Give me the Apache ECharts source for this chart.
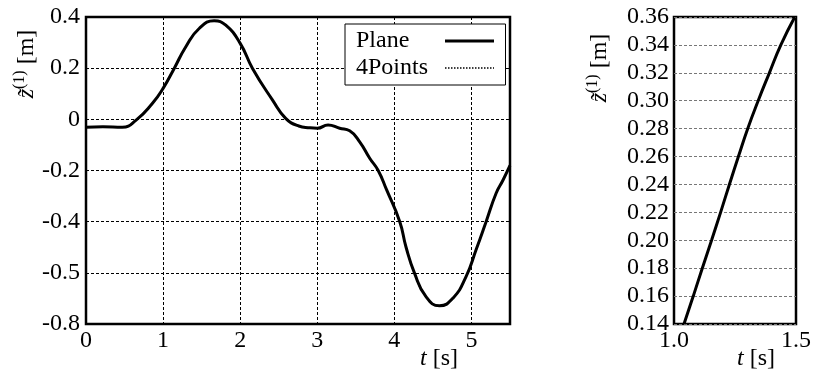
<!DOCTYPE html>
<html>
<head>
<meta charset="utf-8">
<script src="https://cdn.jsdelivr.net/npm/echarts@6/dist/echarts.min.js"></script>
<style>
html,body{margin:0;padding:0;background:#fff;}
#chart{width:814px;height:374px;}
</style>
</head>
<body>
<div id="chart"></div>
<script>
// ---- data ----
var planeT = [0, 0.22, 0.47, 0.65, 0.86, 1.0, 1.144, 1.295, 1.468, 1.662, 1.813, 2.0, 2.16, 2.42, 2.59, 2.76, 2.9, 3.0, 3.14, 3.29, 3.42, 3.55, 3.68, 3.79, 3.9, 4.07, 4.15, 4.26, 4.41, 4.585, 4.76, 4.93, 5.06, 5.19, 5.32, 5.41, 5.5];
var planeZ = [-0.031, -0.029, -0.031, -0.003, 0.062, 0.121, 0.199, 0.284, 0.355, 0.385, 0.368, 0.297, 0.199, 0.075, 0.004, -0.026, -0.033, -0.035, -0.022, -0.035, -0.045, -0.088, -0.152, -0.2, -0.276, -0.40, -0.498, -0.6, -0.693, -0.729, -0.699, -0.615, -0.51, -0.4, -0.289, -0.237, -0.18];
var fourPointsT = planeT;
var fourPointsZ = planeZ;
var zoomT = [1.041, 1.079, 1.116, 1.154, 1.191, 1.227, 1.264, 1.302, 1.345, 1.391, 1.438, 1.495];
var zoomZ = [0.14, 0.16, 0.18, 0.20, 0.22, 0.24, 0.26, 0.28, 0.30, 0.32, 0.34, 0.36];
var leftXTickLabels = ['0', '1', '2', '3', '4', '5'];
var leftYTickLabels = ['-0.8', '-0.5', '-0.4', '-0.2', '0', '0.2', '0.4'];
var rightXTickLabels = ['1.0', '1.5'];
var rightYTickLabels = ['0.14', '0.16', '0.18', '0.20', '0.22', '0.24', '0.26', '0.28', '0.30', '0.32', '0.34', '0.36'];
var legendNames = ['Plane', '4Points'];

function pairs(xs, ys) { return xs.map(function (x, i) { return [x, ys[i]]; }); }
function labelFrom(arr, min, step) {
  return function (v) {
    var i = Math.round((v - min) / step);
    if (Math.abs(v - (min + i * step)) > step * 1e-3) return '';
    return arr[i] !== undefined ? arr[i] : '';
  };
}

var FONT = '"Liberation Serif", "DejaVu Serif", serif';
var FS = 24;
var labelStyle = { color: '#000', fontFamily: FONT, fontSize: FS };
var hiddenSymbol = { color: 'rgba(0,0,0,0)', borderColor: 'rgba(0,0,0,0)', borderWidth: 0, opacity: 0 };

var chart = echarts.init(document.getElementById('chart'));
var option = {
  animation: false,
  backgroundColor: '#fff',
  grid: [
    { left: 86, top: 17, width: 424, height: 307, show: true, borderColor: '#000', borderWidth: 2.5, backgroundColor: 'transparent', containLabel: false },
    { left: 674, top: 17, width: 122, height: 307, show: true, borderColor: '#000', borderWidth: 2.5, backgroundColor: 'transparent', containLabel: false }
  ],
  xAxis: [
    {
      type: 'value', gridIndex: 0, min: 0, max: 5.5, interval: 1,
      axisLine: { show: false }, axisTick: { show: false },
      axisLabel: Object.assign({ margin: 5, showMaxLabel: false, formatter: labelFrom(leftXTickLabels, 0, 1) }, labelStyle),
      splitLine: { show: true, lineStyle: { color: '#000', width: 1, type: [3, 2] } }
    },
    {
      type: 'value', gridIndex: 1, min: 1.0, max: 1.5, interval: 0.5,
      axisLine: { show: false }, axisTick: { show: false },
      axisLabel: Object.assign({ margin: 5, formatter: labelFrom(rightXTickLabels, 1.0, 0.5) }, labelStyle),
      splitLine: { show: false }
    }
  ],
  yAxis: [
    {
      type: 'value', gridIndex: 0, min: -0.8, max: 0.4, interval: 0.2,
      axisLine: { show: false }, axisTick: { show: false },
      axisLabel: Object.assign({ margin: 6, formatter: labelFrom(leftYTickLabels, -0.8, 0.2) }, labelStyle),
      splitLine: { show: true, lineStyle: { color: '#000', width: 1, type: [3, 2] } }
    },
    {
      type: 'value', gridIndex: 1, min: 0.14, max: 0.36, interval: 0.02,
      axisLine: { show: false }, axisTick: { show: false },
      axisLabel: Object.assign({ margin: 5, formatter: labelFrom(rightYTickLabels, 0.14, 0.02) }, labelStyle),
      splitLine: { show: true, lineStyle: { color: '#777', width: 1, type: [3, 2] } }
    }
  ],
  legend: {
    orient: 'vertical', left: 345, top: 24, align: 'right',
    itemWidth: 49, itemHeight: 14, itemGap: 3,
    padding: [5, 10, 5, 11],
    backgroundColor: '#fff', borderColor: '#000', borderWidth: 1, borderRadius: 0,
    data: [
      { name: legendNames[0], lineStyle: { width: 3, color: '#000', type: 'solid' }, itemStyle: hiddenSymbol },
      { name: legendNames[1], lineStyle: { width: 1.5, color: '#000', type: 'dotted' }, itemStyle: hiddenSymbol }
    ],
    formatter: function (n) { return '{t|' + n + '}'; },
    textStyle: { color: '#000', fontFamily: FONT, fontSize: FS, rich: { t: { width: 84, align: 'left', fontFamily: FONT, fontSize: FS, lineHeight: 24, color: '#000' } } }
  },
  series: [
    {
      name: legendNames[1], type: 'line', xAxisIndex: 0, yAxisIndex: 0, z: 1,
      data: pairs(fourPointsT, fourPointsZ), smooth: true, showSymbol: false, symbol: 'none',
      lineStyle: { color: '#000', width: 1.5, type: 'dotted' }, itemStyle: { color: '#000' }
    },
    {
      name: legendNames[0], type: 'line', xAxisIndex: 0, yAxisIndex: 0, z: 3,
      data: pairs(planeT, planeZ), smooth: true, showSymbol: false, symbol: 'none',
      lineStyle: { color: '#000', width: 3 }, itemStyle: { color: '#000' }
    },
    {
      name: 'zoom', type: 'line', xAxisIndex: 1, yAxisIndex: 1, z: 3,
      data: pairs(zoomT, zoomZ), smooth: true, showSymbol: false, symbol: 'none',
      lineStyle: { color: '#000', width: 3 }, itemStyle: { color: '#000' }
    }
  ],
  graphic: [
    { type: 'text', x: 439, y: 359, style: { text: '{i|t} [s]', align: 'center', verticalAlign: 'middle', fill: '#000', font: FS + 'px ' + FONT, rich: { i: { fontStyle: 'italic', fontFamily: FONT, fontSize: FS } } } },
    { type: 'text', x: 756, y: 359, style: { text: '{i|t} [s]', align: 'center', verticalAlign: 'middle', fill: '#000', font: FS + 'px ' + FONT, rich: { i: { fontStyle: 'italic', fontFamily: FONT, fontSize: FS } } } },
    { type: 'text', x: 27, y: 64, rotation: Math.PI / 2, style: { text: '{i|z\u0303}{s|(1)} [m]', align: 'center', verticalAlign: 'middle', fill: '#000', font: FS + 'px ' + FONT, lineHeight: 30, rich: { i: { fontStyle: 'italic', fontFamily: FONT, fontSize: FS }, s: { fontFamily: FONT, fontSize: 16, verticalAlign: 'top' } } } },
    { type: 'text', x: 600, y: 68, rotation: Math.PI / 2, style: { text: '{i|z\u0303}{s|(1)} [m]', align: 'center', verticalAlign: 'middle', fill: '#000', font: FS + 'px ' + FONT, lineHeight: 30, rich: { i: { fontStyle: 'italic', fontFamily: FONT, fontSize: FS }, s: { fontFamily: FONT, fontSize: 16, verticalAlign: 'top' } } } }
  ]
};
chart.setOption(option);
</script>
</body>
</html>
